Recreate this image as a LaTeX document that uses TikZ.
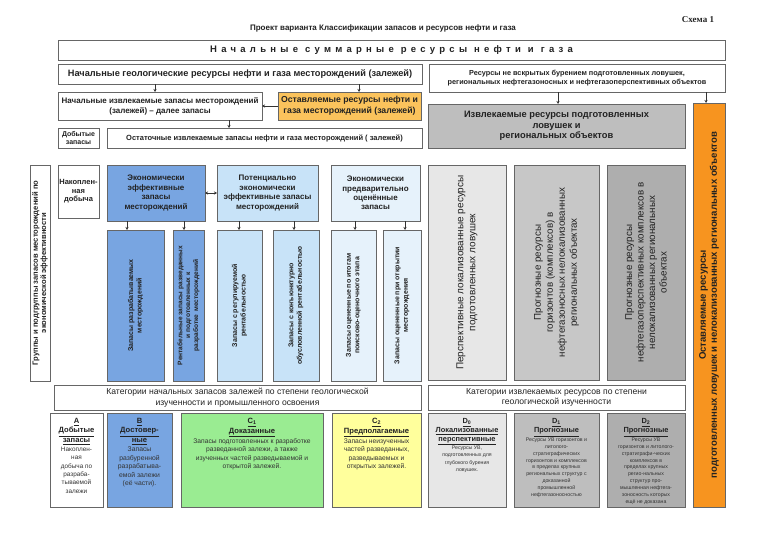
\documentclass[tikz,border=0pt]{standalone}
\usepackage{fontspec}
\setmainfont{Liberation Sans}
\newfontfamily\serifb{Liberation Serif}
\usetikzlibrary{arrows.meta,shadows,calc}
\newcommand\fsz[2]{\fontsize{#1}{#2}\selectfont}
\definecolor{dkblue}{HTML}{78A5E1}
\definecolor{ltblue}{HTML}{C8E3F8}
\definecolor{vlblue}{HTML}{E6F2FB}
\definecolor{orgL}{HTML}{FBC35C}
\definecolor{orgD}{HTML}{F7941F}
\definecolor{grA}{HTML}{BEBEBE}
\definecolor{grL}{HTML}{E7E7E7}
\definecolor{grM}{HTML}{C7C7C7}
\definecolor{grD}{HTML}{AEAEAE}
\definecolor{grnC}{HTML}{9AEC92}
\definecolor{yelC}{HTML}{FFFF9C}
\definecolor{txtc}{HTML}{222222}
\begin{document}
\begin{tikzpicture}[x=1pt,y=-1pt,
  box/.style={draw=black!60, line width=0.5pt, anchor=north west, inner sep=0pt, outer sep=0pt,
    drop shadow={shadow xshift=1.2pt, shadow yshift=-1.2pt, fill=black!60, opacity=0.8},
    align=center, text=txtc},
  txt/.style={align=center, inner sep=0pt, text=txtc},
  vt/.style={txt, rotate=90},
  hd/.style={txt, anchor=north, font=\fsz{7.6}{9.5}\bfseries},
  bd/.style={txt, anchor=north, text=black!80},
  arr/.style={draw=black!80, line width=0.5pt, -{Stealth[length=3pt,width=3pt]}},
  darr/.style={draw=black!80, line width=0.5pt, {Stealth[length=3pt,width=3pt]}-{Stealth[length=3pt,width=3pt]}}
]
\fill[white] (0,0) rectangle (768,543);
\useasboundingbox (0,0) rectangle (768,543);

% header
\node[txt, font=\serifb\fsz{9}{10}\bfseries] (schema) at (698,20) {Схема 1};
\node[txt, font=\fsz{8}{9}\bfseries] (title) at (383,28) {Проект варианта Классификации запасов и ресурсов нефти и газа};

% top boxes
\node[box, fill=white, minimum width=667, minimum height=20] (b1) at (58,40)
  {\fsz{9.5}{11}\bfseries\addfontfeature{LetterSpace=45}Начальные\hspace{7pt}суммарные\hspace{7pt}ресурсы\hspace{7pt}нефти\hspace{7pt}и\hspace{7pt}газа};
\node[box, fill=white, minimum width=364, minimum height=20, font=\fsz{9.2}{11}\bfseries] (b2) at (58,64)
  {Начальные геологические ресурсы нефти и газа месторождений (залежей)};
\node[box, fill=white, minimum width=296, minimum height=28, font=\fsz{7.3}{9.5}\bfseries] (b3) at (429,64)
  {Ресурсы не вскрытых бурением подготовленных ловушек,\\региональных нефтегазоносных и нефтегазоперспективных объектов};
\node[box, fill=white, minimum width=204, minimum height=28, font=\fsz{8}{10}\bfseries] (b4) at (58,92)
  {Начальные извлекаемые запасы месторождений\\(залежей) – далее запасы};
\node[box, fill=orgL, minimum width=143, minimum height=28, font=\fsz{8.7}{10.5}\bfseries] (b5) at (278,92)
  {Оставляемые ресурсы нефти и\\газа месторождений (залежей)};
\node[box, fill=white, minimum width=41, minimum height=20, font=\fsz{7}{8.5}\bfseries] (b6) at (58,128)
  {Добытые\\запасы};
\node[box, fill=white, minimum width=315, minimum height=20, font=\fsz{7.5}{9}\bfseries] (b7) at (107,128)
  {Остаточные извлекаемые запасы нефти и газа месторождений ( залежей)};
\node[box, fill=grA, minimum width=257, minimum height=44, font=\fsz{9.3}{10.5}\bfseries] (b8) at (428,104)
  {Извлекаемые ресурсы подготовленных\\ловушек и\\региональных объектов};
\node[box, fill=orgD, minimum width=32, minimum height=404] (orng) at (693,103) {};
\node[vt, font=\fsz{9.6}{11}\bfseries] (orngt) at (orng.center)
  {Оставляемые ресурсы\\подготовленных ловушек и нелокализованных региональных объектов};

% row 2
\node[box, fill=white, minimum width=20, minimum height=216] (grp) at (30,165) {};
\node[vt, font=\fsz{7.6}{8.2}\bfseries] (grpt) at (grp.center)
  {Группы и подгруппы запасов месторождений по\\экономической эффективности};
\node[box, fill=white, minimum width=41, minimum height=53, font=\fsz{7.5}{8.5}\bfseries] (nak) at (58,165)
  {Накоплен-\\ная\\добыча};
\node[box, fill=dkblue, minimum width=98, minimum height=56, font=\fsz{8}{9.4}\bfseries] (eco) at (107,165)
  {Экономически\\эффективные\\запасы\\месторождений};
\node[box, fill=ltblue, minimum width=101, minimum height=56, font=\fsz{8}{9.4}\bfseries] (pot) at (217,165)
  {Потенциально\\экономически\\эффективные запасы\\месторождений};
\node[box, fill=vlblue, minimum width=89, minimum height=56, font=\fsz{8}{9.4}\bfseries] (pre) at (331,165)
  {Экономически\\предварительно\\оценённые\\запасы};

\node[box, fill=grL, minimum width=78, minimum height=215] (g1) at (428,165) {};
\node[vt, font=\fsz{10}{12}] (g1t) at (g1.center)
  {Перспективные локализованные ресурсы\\подготовленных ловушек};
\node[box, fill=grM, minimum width=85, minimum height=215] (g2) at (514,165) {};
\node[vt, font=\fsz{9.8}{12}] (g2t) at (g2.center)
  {Прогнозные ресурсы\\горизонтов (комплексов) в\\нефтегазоносных нелокализованных\\региональных объектах};
\node[box, fill=grD, minimum width=78, minimum height=215] (g3) at (607,165) {};
\node[vt, font=\fsz{9.8}{11.5}] (g3t) at (g3.center)
  {Прогнозные ресурсы\\нефтегазоперспективных комплексов в\\нелокализованных региональных\\объектах};

% sub boxes
\node[box, fill=dkblue, minimum width=57, minimum height=151] (s1) at (107,230) {};
\node[vt, font=\fsz{7}{8.5}\bfseries] (s1t) at (s1.center) {Запасы разрабатываемых\\месторождений};
\node[box, fill=dkblue, minimum width=31, minimum height=151] (s2) at (173,230) {};
\node[vt, font=\fsz{6.6}{7.8}\bfseries] (s2t) at (s2.center) {Рентабельные запасы разведанных\\и подготовленных к\\разработке\hspace{3pt}месторождений};
\node[box, fill=ltblue, minimum width=45, minimum height=151] (s3) at (217,230) {};
\node[vt, font=\fsz{7}{8.5}\bfseries] (s3t) at (s3.center) {Запасы с регулируемой\\рентабельностью};
\node[box, fill=ltblue, minimum width=46, minimum height=151] (s4) at (273,230) {};
\node[vt, font=\fsz{7}{8.5}\bfseries] (s4t) at (s4.center) {Запасы с конъюнктурно\\обусловленной рентабельностью};
\node[box, fill=vlblue, minimum width=45, minimum height=151] (s5) at (331,230) {};
\node[vt, font=\fsz{7}{8.5}\bfseries] (s5t) at (s5.center) {Запасы оцененные по итогам\\поисково-оценочного этапа};
\node[box, fill=vlblue, minimum width=38, minimum height=151] (s6) at (383,230) {};
\node[vt, font=\fsz{7}{8.5}\bfseries] (s6t) at (s6.center) {Запасы оцененные при открытии\\месторождения};

% categories
\node[box, fill=white, minimum width=367, minimum height=25, font=\fsz{8.6}{10.5}] (cat1) at (54,385)
  {Категории начальных запасов залежей по степени геологической\\изученности и промышленного освоения};
\node[box, fill=white, minimum width=257, minimum height=25, font=\fsz{8.6}{10.5}] (cat2) at (428,385)
  {Категории извлекаемых ресурсов по степени\\геологической изученности};

% bottom category boxes
\node[box, fill=white, minimum width=53, minimum height=94] (cA) at (50,413) {};
\node[hd] (hA) at ([yshift=-5pt]cA.north) {\underline{A}\\\underline{Добытые}\\\underline{запасы}};
\node[bd, font=\fsz{6.4}{8.4}] (tA) at ([yshift=-2pt]hA.south)
  {Накоплен-\\ная\\добыча по\\разраба-\\тываемой\\залежи};
\node[box, fill=dkblue, minimum width=65, minimum height=94] (cB) at (107,413) {};
\node[hd] (hB) at ([yshift=-5pt]cB.north) {\underline{B}\\\underline{Достовер-}\\\underline{ные}};
\node[bd, font=\fsz{6.8}{8.5}] (tB) at ([yshift=-2pt]hB.south)
  {Запасы\\разбуренной\\разрабатыва-\\емой залежи\\(её части).};
\node[box, fill=grnC, minimum width=142, minimum height=94] (cC1) at (181,413) {};
\node[hd] (hC1) at ([yshift=-5pt]cC1.north) {\underline{C\textsubscript{1}}\\\underline{Доказанные}};
\node[bd, font=\fsz{6.7}{8.5}] (tC1) at ([yshift=-1.5pt]hC1.south)
  {Запасы подготовленных к разработке\\разведанной залежи, а также\\изученных частей разведываемой и\\открытой залежей.};
\node[box, fill=yelC, minimum width=89, minimum height=94] (cC2) at (332,413) {};
\node[hd] (hC2) at ([yshift=-5pt]cC2.north) {\underline{C\textsubscript{2}}\\\underline{Предполагаемые}};
\node[bd, font=\fsz{6.7}{8.5}] (tC2) at ([yshift=-1.5pt]hC2.south)
  {Запасы неизученных\\частей разведанных,\\разведываемых и\\открытых залежей.};
\node[box, fill=grL, minimum width=78, minimum height=94] (cD0) at (428,413) {};
\node[hd, font=\fsz{7.4}{9}\bfseries] (hD0) at ([yshift=-5pt]cD0.north) {\underline{D\textsubscript{0}}\\\underline{Локализованные}\\\underline{перспективные}};
\node[bd, font=\fsz{5.2}{7.1}] (tD0) at ([yshift=-1pt]hD0.south)
  {Ресурсы УВ,\\подготовленных для\\глубокого бурения\\ловушек.};
\node[box, fill=grA, minimum width=85, minimum height=94] (cD1) at (514,413) {};
\node[hd, font=\fsz{7.4}{9.5}\bfseries] (hD1) at ([yshift=-5pt]cD1.north) {\underline{D\textsubscript{1}}\\\underline{Прогнозные}};
\node[bd, font=\fsz{5.2}{6.9}] (tD1) at ([yshift=-1pt]hD1.south)
  {Ресурсы УВ горизонтов и\\литолого-\\стратиграфических\\горизонтов и комплексов\\в пределах крупных\\региональных структур с\\доказанной\\промышленной\\нефтегазоносностью};
\node[box, fill=grD, minimum width=78, minimum height=94] (cD2) at (607,413) {};
\node[hd, font=\fsz{7.4}{9.5}\bfseries] (hD2) at ([yshift=-5pt]cD2.north) {\underline{D\textsubscript{2}}\\\underline{Прогнозные}};
\node[bd, font=\fsz{5.2}{6.9}] (tD2) at ([yshift=-1pt]hD2.south)
  {Ресурсы УВ\\горизонтов и литолого-\\стратиграфи-ческих\\комплексов в\\пределах крупных\\регио-нальных\\структур про-\\мышленная нефтега-\\зоносность которых\\ещё не доказана};

% connector x positions
\coordinate (xa) at (155,0);
\coordinate (xb) at (359,0);
\coordinate (xc) at (229,0);
\coordinate (xd) at (558,0);
\coordinate (xe) at (706,0);
\coordinate (xf) at (127,0);
\coordinate (xg) at (184,0);
\coordinate (xh) at (239,0);
\coordinate (xi) at (294,0);
\coordinate (xj) at (355,0);
\coordinate (xk) at (405,0);

\draw[arr] (b2.south -| xa) -- (b4.north -| xa);
\draw[arr] (b2.south -| xb) -- (b5.north -| xb);
\draw[arr] (b5.west) -- (b4.east);
\draw[arr] (b4.south -| xc) -- (b7.north -| xc);
\draw[arr] (b3.south -| xd) -- (b8.north -| xd);
\draw[arr] (b3.south -| xe) -- (orng.north -| xe);
\draw[darr] (eco.east) -- (pot.west);
\draw[arr] (eco.south -| xf) -- (s1.north -| xf);
\draw[arr] (eco.south -| xg) -- (s2.north -| xg);
\draw[arr] (pot.south -| xh) -- (s3.north -| xh);
\draw[arr] (pot.south -| xi) -- (s4.north -| xi);
\draw[arr] (pre.south -| xj) -- (s5.north -| xj);
\draw[arr] (pre.south -| xk) -- (s6.north -| xk);
\end{tikzpicture}
\end{document}
